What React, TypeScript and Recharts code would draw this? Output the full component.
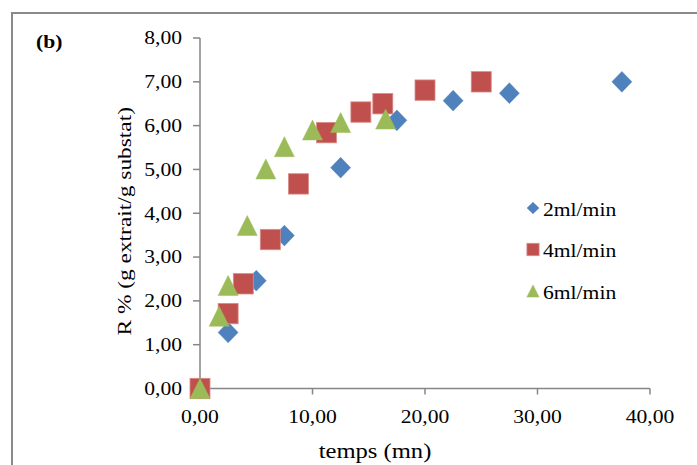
import React from 'react';
import { ScatterChart, Scatter, XAxis, YAxis, Legend } from 'recharts';

// ---- data ----
const seriesNames = ['2ml/min', '4ml/min', '6ml/min'];
const seriesColors = ['#4F81BD', '#C0504D', '#9BBB59'];

const time2 = [0, 2.5, 5, 7.5, 12.5, 17.5, 22.5, 27.5, 37.5];
const yield2 = [0, 1.28, 2.46, 3.49, 5.04, 6.12, 6.57, 6.74, 7.0];

const time4 = [0, 2.5, 3.85, 6.25, 8.75, 11.25, 14.3, 16.25, 20, 25];
const yield4 = [0, 1.71, 2.39, 3.4, 4.67, 5.84, 6.31, 6.5, 6.81, 7.0];

const time6 = [0, 1.7, 2.5, 4.2, 5.85, 7.5, 10, 12.5, 16.5];
const yield6 = [0, 1.65, 2.35, 3.72, 5.01, 5.52, 5.9, 6.07, 6.15];

const xTicks = [0, 10, 20, 30, 40];
const yTicks = [0, 1, 2, 3, 4, 5, 6, 7, 8];
const xTitle = 'temps (mn)';
const yTitle = 'R % (g extrait/g substat)';
const panelLabel = '(b)';

const data2 = time2.map((t, i) => ({ t, r: yield2[i] }));
const data4 = time4.map((t, i) => ({ t, r: yield4[i] }));
const data6 = time6.map((t, i) => ({ t, r: yield6[i] }));

// ---- styling helpers ----
const FONT = '"Liberation Serif", "Times New Roman", serif';
const WIDE = 1.2;
const AXIS = '#868686';

const fmt = (v: number) => v.toFixed(2).replace('.', ',');

function WideText({ x, y, size, anchor = 'start', rotate = 0, weight = 'normal', children }: any) {
  return (
    <g transform={`translate(${x},${y}) rotate(${rotate}) scale(${WIDE},1)`}>
      <text x={0} y={0} textAnchor={anchor} fontFamily={FONT} fontSize={size} fontWeight={weight} fill="#000">
        {children}
      </text>
    </g>
  );
}

const YTick = (p: any) => (
  <WideText x={p.x} y={p.y + 6.4} size={18} anchor="end">{fmt(p.payload.value)}</WideText>
);
const XTick = (p: any) => (
  <WideText x={p.x} y={p.y + 13} size={18} anchor="middle">{fmt(p.payload.value)}</WideText>
);

function Diamond({ cx, cy, fill, w, h }: any) {
  return <path d={`M${cx},${cy - h}L${cx + w},${cy}L${cx},${cy + h}L${cx - w},${cy}Z`} fill={fill} stroke={fill} strokeOpacity={0.6} strokeWidth={0.8} />;
}
function Square({ cx, cy, fill, w, h }: any) {
  return <rect x={cx - w} y={cy - h} width={2 * w} height={2 * h} fill={fill} stroke="#d98c8a" strokeWidth={0.8} />;
}
function Triangle({ cx, cy, fill, w, h }: any) {
  return <path d={`M${cx},${cy - h}L${cx + w},${cy + h}L${cx - w},${cy + h}Z`} fill={fill} stroke={fill} strokeOpacity={0.6} strokeWidth={0.8} />;
}

const shapes = [Diamond, Square, Triangle];

const LegendBox = (props: any) => {
  const payload: any[] = props.payload || [];
  const ordered = seriesNames.map((n) => payload.find((e) => e.value === n)).filter(Boolean);
  return (
    <svg width={150} height={130} style={{ overflow: 'visible' }}>
      {ordered.map((e: any, i: number) => {
        const idx = seriesNames.indexOf(e.value);
        const Shape = shapes[idx];
        const cy = 23 + i * 41.5;
        const dims = [
          { w: 6, h: 5.8 },
          { w: 6.1, h: 6.2 },
          { w: 6.1, h: 6.1 },
        ][idx];
        return (
          <g key={e.value}>
            <Shape cx={23} cy={cy} fill={e.color || seriesColors[idx]} w={dims.w} h={dims.h} />
            <WideText x={33} y={cy + 7.6} size={18}>{e.value}</WideText>
          </g>
        );
      })}
    </svg>
  );
};

export default function App() {
  return (
    <div style={{ position: 'absolute', left: 0, top: 0, width: 697, height: 465, overflow: 'hidden', background: '#fff' }}>
      <div
        style={{
          position: 'absolute',
          left: 11,
          top: 12,
          width: 800,
          height: 600,
          border: '2px solid #8a8a8a',
          boxSizing: 'border-box',
        }}
      />
      <div style={{ position: 'absolute', left: 0, top: 0 }}>
        <ScatterChart width={697} height={465} margin={{ top: 38, right: 47, bottom: 36.5, left: 140 }}>
          <XAxis
            type="number"
            dataKey="t"
            domain={[0, 40]}
            ticks={xTicks}
            interval={0}
            height={40}
            stroke={AXIS}
            strokeWidth={1.5}
            tickSize={6}
            tickMargin={15}
            tick={<XTick />}
            label={(p: any) => {
              const vb = p.viewBox;
              return (
                <WideText x={vb.x + vb.width / 2 - 50} y={vb.y + 69.5} size={20.5} anchor="middle">
                  {xTitle}
                </WideText>
              );
            }}
          />
          <YAxis
            type="number"
            dataKey="r"
            domain={[0, 8]}
            ticks={yTicks}
            interval={0}
            width={60}
            stroke={AXIS}
            strokeWidth={1.5}
            tickSize={7}
            tickMargin={11}
            tick={<YTick />}
            label={(p: any) => {
              const vb = p.viewBox;
              return (
                <WideText x={vb.x - 9} y={vb.y + vb.height / 2 + 8} size={19.5} anchor="middle" rotate={-90}>
                  {yTitle}
                </WideText>
              );
            }}
          />
          <Legend
            layout="vertical"
            align="center"
            verticalAlign="middle"
            wrapperStyle={{ left: 510, top: 185, width: 150, height: 130 }}
            content={<LegendBox />}
          />
          <Scatter
            name={seriesNames[0]}
            data={data2}
            fill={seriesColors[0]}
            legendType="diamond"
            isAnimationActive={false}
            shape={(p: any) => <Diamond cx={p.cx} cy={p.cy} fill={seriesColors[0]} w={10} h={10.4} />}
          />
          <Scatter
            name={seriesNames[1]}
            data={data4}
            fill={seriesColors[1]}
            legendType="square"
            isAnimationActive={false}
            shape={(p: any) => <Square cx={p.cx} cy={p.cy} fill={seriesColors[1]} w={10} h={10.2} />}
          />
          <Scatter
            name={seriesNames[2]}
            data={data6}
            fill={seriesColors[2]}
            legendType="triangle"
            isAnimationActive={false}
            shape={(p: any) => <Triangle cx={p.cx} cy={p.cy} fill={seriesColors[2]} w={10} h={10} />}
          />
        </ScatterChart>
      </div>
      <div
        style={{
          position: 'absolute',
          left: 36,
          top: 32.6,
          fontFamily: FONT,
          fontWeight: 'bold',
          fontSize: 18,
          lineHeight: '18px',
          transform: `scaleX(${WIDE})`,
          transformOrigin: '0 0',
          whiteSpace: 'nowrap',
        }}
      >
        {panelLabel}
      </div>
    </div>
  );
}
